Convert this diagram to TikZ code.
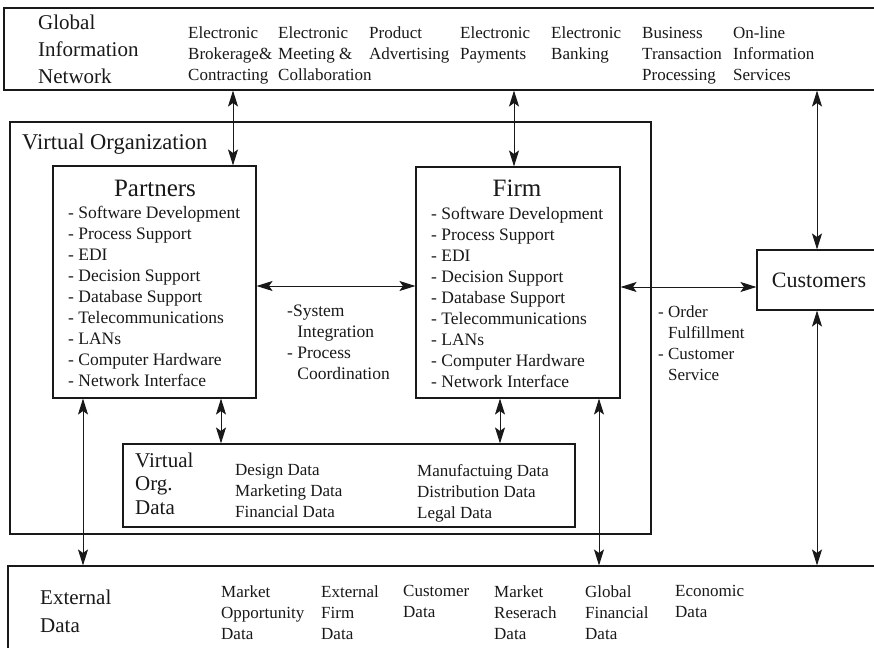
\documentclass[tikz,border=0pt]{standalone}
\usepackage{fontspec}
\setmainfont{Liberation Serif}
\usetikzlibrary{arrows.meta}
\begin{document}
\begin{tikzpicture}[x=1pt,y=-1pt,
  box/.style={draw=black!90, line width=1.1pt, inner sep=0pt, rectangle},
  arr/.style={draw=black!90, line width=1pt,
    {Stealth[length=16pt,width=10pt,inset=3.5pt]}-{Stealth[length=16pt,width=10pt,inset=3.5pt]}},
  txt/.style={inner sep=0pt, anchor=north west, align=left, text=black!90},
  bigtxt/.style={txt, font=\fontsize{21}{27}\selectfont},
  smalltxt/.style={txt, font=\fontsize{17}{21}\selectfont},
  listtxt/.style={txt, font=\fontsize{17.5}{21}\selectfont},
  titletxt/.style={inner sep=0pt, anchor=center, text=black!90, font=\fontsize{25}{30}\selectfont}
]
\useasboundingbox (0,0) rectangle (874,647);
\fill[white] (0,0) rectangle (874,647);
\clip (0,0) rectangle (874,647);

% boxes
\node[box, minimum width=896pt, minimum height=82pt] (gin) at (452,49) {};
\node[box, minimum width=641pt, minimum height=412pt] (vo) at (330.5,328) {};
\node[box, minimum width=203pt, minimum height=232pt] (partners) at (154.5,282) {};
\node[box, minimum width=204pt, minimum height=231pt] (firm) at (518,282.5) {};
\node[box, minimum width=143pt, minimum height=60pt] (customers) at (828.5,280) {};
\node[box, minimum width=452pt, minimum height=83pt] (vod) at (349,485.5) {};
\node[box, minimum width=892pt, minimum height=114pt] (ext) at (454,623) {};

% Global Information Network
\node[bigtxt] (gintitle) at (38,14.6) {Global\\Information\\Network};
\node[smalltxt] (g1) at (188,27) {Electronic\\Brokerage\&\\Contracting};
\node[smalltxt] (g2) at (278,27) {Electronic\\Meeting \&\\Collaboration};
\node[smalltxt] (g3) at (369,27) {Product\\Advertising};
\node[smalltxt] (g4) at (460,27) {Electronic\\Payments};
\node[smalltxt] (g5) at (551,27) {Electronic\\Banking};
\node[smalltxt] (g6) at (642,27) {Business\\Transaction\\Processing};
\node[smalltxt] (g7) at (733,27) {On-line\\Information\\Services};

% Virtual organization
\node[bigtxt, font=\fontsize{22.5}{27}\selectfont] (votitle) at (22,134) {Virtual Organization};
\node[titletxt] (ptitle) at (155,188) {Partners};
\node[titletxt] (ftitle) at (517,188) {Firm};
\node[listtxt] (plist) at (68,206) {- Software Development\\- Process Support\\- EDI\\- Decision Support\\- Database Support\\- Telecommunications\\- LANs\\- Computer Hardware\\- Network Interface};
\node[listtxt] (flist) at (431,207) {- Software Development\\- Process Support\\- EDI\\- Decision Support\\- Database Support\\- Telecommunications\\- LANs\\- Computer Hardware\\- Network Interface};
\node[listtxt] (syslabel) at (287,305) {-System\\\phantom{- }Integration\\- Process\\\phantom{- }Coordination};
\node[listtxt, font=\fontsize{17}{21}\selectfont] (ordlabel) at (658,306) {- Order\\\phantom{- }Fulfillment\\- Customer\\\phantom{- }Service};
\node[titletxt, font=\fontsize{22}{26}\selectfont] (ctitle) at (819,280) {Customers};

% Virtual org data
\node[bigtxt, font=\fontsize{21}{23.5}\selectfont] (vodtitle) at (135,452.6) {Virtual\\Org.\\Data};
\node[smalltxt] (vd1) at (235,464) {Design Data\\Marketing Data\\Financial Data};
\node[smalltxt] (vd2) at (417,464) {Manufactuing Data\\Distribution Data\\Legal Data};

% External data
\node[bigtxt, font=\fontsize{21}{28.5}\selectfont] (exttitle) at (40,589.6) {External\\Data};
\node[smalltxt] (e1) at (221,585) {Market\\Opportunity\\Data};
\node[smalltxt] (e2) at (321,585) {External\\Firm\\Data};
\node[smalltxt] (e3) at (403,585) {Customer\\Data};
\node[smalltxt] (e4) at (494,585) {Market\\Reserach\\Data};
\node[smalltxt] (e5) at (585,585) {Global\\Financial\\Data};
\node[smalltxt] (e6) at (675,585) {Economic\\Data};

% connector positions
\coordinate (xa) at (233,0);
\coordinate (xb) at (514,0);
\coordinate (xc) at (817,0);
\coordinate (xd) at (83,0);
\coordinate (xe) at (221,0);
\coordinate (xf) at (500,0);
\coordinate (xg) at (599,0);
\coordinate (ya) at (0,286);
\coordinate (yb) at (0,287);

% connectors
\draw[arr] (gin.south -| xa) -- (partners.north -| xa);
\draw[arr] (gin.south -| xb) -- (firm.north -| xb);
\draw[arr] (gin.south -| xc) -- (customers.north -| xc);
\draw[arr] (partners.east |- ya) -- (firm.west |- ya);
\draw[arr] (firm.east |- yb) -- (customers.west |- yb);
\draw[arr] (partners.south -| xd) -- (ext.north -| xd);
\draw[arr] (partners.south -| xe) -- (vod.north -| xe);
\draw[arr] (firm.south -| xf) -- (vod.north -| xf);
\draw[arr] (firm.south -| xg) -- (ext.north -| xg);
\draw[arr] (customers.south -| xc) -- (ext.north -| xc);
\end{tikzpicture}
\end{document}
